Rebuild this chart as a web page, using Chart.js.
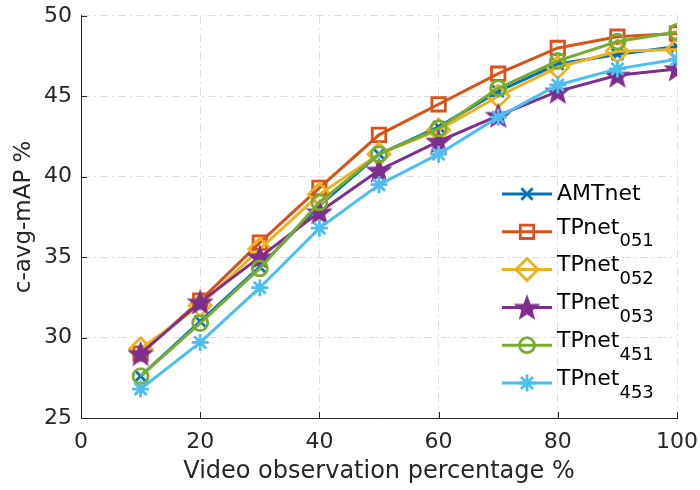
<!DOCTYPE html>
<html>
<head>
<meta charset="utf-8">
<script src="https://cdn.jsdelivr.net/npm/chart.js@4/dist/chart.umd.min.js"></script>
<style>
  html, body { margin: 0; padding: 0; background: #fff; }
  #wrap { width: 700px; height: 490px; }
</style>
</head>
<body>
<div id="wrap"><canvas id="mapChart" width="700" height="490"></canvas></div>
<script>
// observation percentages (x values)
const observed = [10, 20, 30, 40, 50, 60, 70, 80, 90, 100];

// c-avg-mAP values
const amtnet   = [27.6, 31.0, 34.4, 38.2, 41.4, 43.1, 45.3, 47.0, 47.6, 48.1];
const tpnet051 = [29.0, 32.3, 35.9, 39.3, 42.6, 44.5, 46.4, 48.0, 48.7, 48.9];
const tpnet052 = [29.3, 32.0, 35.5, 38.9, 41.4, 42.9, 45.0, 46.8, 47.8, 47.9];
const tpnet053 = [29.0, 32.2, 35.0, 37.8, 40.4, 42.2, 43.8, 45.3, 46.3, 46.7];
const tpnet451 = [27.6, 30.9, 34.3, 38.4, 41.4, 43.0, 45.5, 47.2, 48.4, 49.0];
const tpnet453 = [26.8, 29.7, 33.1, 36.8, 39.5, 41.4, 43.7, 45.7, 46.7, 47.3];

const yTicks = [25, 30, 35, 40, 45, 50];
const xTicks = [0, 20, 40, 60, 80, 100];

const legendNames = ['AMTnet', 'TPnet', 'TPnet', 'TPnet', 'TPnet', 'TPnet'];
const legendSubs  = ['', '051', '052', '053', '451', '453'];

const FONT = 'DejaVu Sans';
const INK = '#262626';

// filled five-point star marker (MATLAB 'p')
function makeStar(color, size) {
    const c = document.createElement('canvas');
    c.width = size; c.height = size;
    const g = c.getContext('2d');
    const cx = size / 2, cy = size / 2 + 1;
    const outer = size / 2 - 1, inner = outer * 0.42;
    g.beginPath();
    for (let i = 0; i < 10; i++) {
        const r = i % 2 === 0 ? outer : inner;
        const a = -Math.PI / 2 + i * Math.PI / 5;
        const px = cx + r * Math.cos(a), py = cy + r * Math.sin(a);
        if (i === 0) g.moveTo(px, py); else g.lineTo(px, py);
    }
    g.closePath();
    g.fillStyle = color;
    g.fill();
    g.lineWidth = 1.5;
    g.strokeStyle = color;
    g.stroke();
    return c;
}

const starImg = makeStar('#7E2F8E', 26);

function series(data, color, style, radius, order) {
    return {
        data: data.map((v, i) => ({ x: observed[i], y: v })),
        borderColor: color,
        backgroundColor: 'rgba(0,0,0,0)',
        borderWidth: 3,
        pointStyle: style,
        pointRadius: radius,
        pointHoverRadius: radius,
        pointBorderColor: color,
        pointBackgroundColor: 'rgba(0,0,0,0)',
        pointBorderWidth: 2.8,
        tension: 0,
        order: order
    };
}

const datasets = [
    series(amtnet,   '#0072BD', 'crossRot', 8, 6),
    series(tpnet051, '#D95319', 'rect', 9.5, 5),
    series(tpnet052, '#EDB120', 'rectRot', 11, 4),
    series(tpnet053, '#7E2F8E', starImg, 13, 3),
    series(tpnet451, '#77AC30', 'circle', 7.5, 2),
    series(tpnet453, '#4DBEEE', 'star', 8.5, 1)
];

// MATLAB-like legend: line sample + marker + subscripted name
const matlabLegend = {
    id: 'matlabLegend',
    afterDraw(chart) {
        const ctx = chart.ctx;
        const x0 = 502, x1 = 552, tx = 557;
        const y0 = 194, step = 37.8;
        datasets.forEach((ds, i) => {
            const y = y0 + i * step;
            ctx.save();
            ctx.strokeStyle = ds.borderColor;
            ctx.lineWidth = 3;
            ctx.beginPath();
            ctx.moveTo(x0, y);
            ctx.lineTo(x1, y);
            ctx.stroke();
            ctx.fillStyle = 'rgba(0,0,0,0)';
            ctx.lineWidth = ds.pointBorderWidth;
            Chart.helpers.drawPoint(ctx, {
                pointStyle: ds.pointStyle,
                radius: ds.pointRadius,
                rotation: 0,
                borderWidth: ds.pointBorderWidth
            }, (x0 + x1) / 2, y);
            ctx.fillStyle = '#000';
            ctx.textBaseline = 'middle';
            ctx.textAlign = 'left';
            ctx.font = '22px "' + FONT + '"';
            const ty = legendSubs[i] ? y - 4 : y;
            ctx.fillText(legendNames[i], tx, ty);
            if (legendSubs[i]) {
                const w = ctx.measureText(legendNames[i]).width;
                ctx.font = '18px "' + FONT + '"';
                ctx.fillText(legendSubs[i], tx + w, y + 10);
            }
            ctx.restore();
        });
    }
};

// inward tick marks like MATLAB
const innerTicks = {
    id: 'innerTicks',
    afterDatasetsDraw(chart) {
        const { ctx, chartArea, scales } = chart;
        ctx.save();
        ctx.strokeStyle = INK;
        ctx.lineWidth = 1;
        ctx.beginPath();
        yTicks.forEach(v => {
            const py = Math.round(scales.y.getPixelForValue(v)) + 0.5;
            ctx.moveTo(chartArea.left, py);
            ctx.lineTo(chartArea.left + 6, py);
        });
        xTicks.forEach(v => {
            const px = Math.round(scales.x.getPixelForValue(v)) + 0.5;
            ctx.moveTo(px, chartArea.bottom);
            ctx.lineTo(px, chartArea.bottom - 6);
        });
        ctx.stroke();
        ctx.restore();
    }
};

new Chart(document.getElementById('mapChart').getContext('2d'), {
    type: 'line',
    data: { datasets: datasets },
    plugins: [matlabLegend, innerTicks],
    options: {
        responsive: false,
        animation: false,
        events: [],
        layout: { padding: { top: 14, right: 23, left: 0, bottom: 0 } },
        plugins: {
            legend: { display: false },
            tooltip: { enabled: false }
        },
        scales: {
            x: {
                type: 'linear',
                min: 0,
                max: 100,
                afterBuildTicks: s => { s.ticks = xTicks.map(v => ({ value: v })); },
                afterFit: s => { s.height = 72; s.paddingLeft = 0; s.paddingRight = 0; },
                grid: { color: '#dedede', lineWidth: 1, drawTicks: false },
                border: { display: true, color: INK, width: 1, dash: [8, 4, 2, 4] },
                ticks: { color: INK, font: { family: FONT, size: 22 }, padding: 11, maxRotation: 0 },
                title: {
                    display: true,
                    text: 'Video observation percentage %',
                    color: INK,
                    font: { family: FONT, size: 24 },
                    padding: { top: 0, bottom: 4 }
                }
            },
            y: {
                min: 25,
                max: 50,
                afterBuildTicks: s => { s.ticks = yTicks.map(v => ({ value: v })); },
                afterFit: s => { s.width = 81; s.paddingTop = 0; s.paddingBottom = 0; },
                grid: { color: '#dedede', lineWidth: 1, drawTicks: false },
                border: { display: true, color: INK, width: 1, dash: [8, 4, 2, 4] },
                ticks: { color: INK, font: { family: FONT, size: 22, lineHeight: 0.9 }, padding: 9 },
                title: {
                    display: true,
                    text: 'c-avg-mAP %',
                    color: INK,
                    font: { family: FONT, size: 23 },
                    padding: { top: 10, bottom: 0 }
                }
            }
        }
    }
});
</script>
</body>
</html>
